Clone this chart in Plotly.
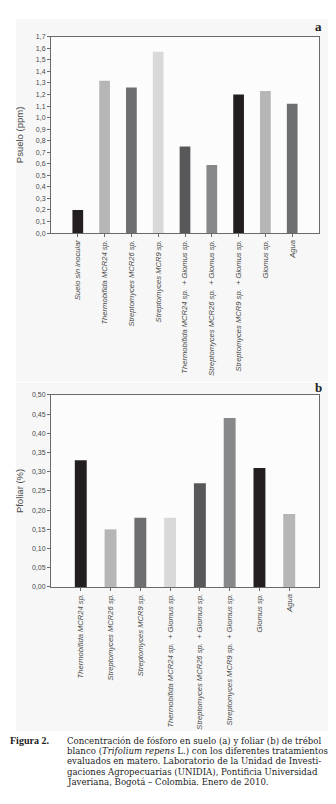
import plotly.graph_objects as go

W, H = 336, 804

# Panel a: soil phosphorus (ppm)
cats_a = ["Suelo sin inocular", "Thermobifida MCR24 sp.", "Streptomyces MCR26 sp.",
          "Streptomyces MCR9 sp.", "Thermobifida MCR24 sp.  + Glomus sp.",
          "Streptomyces MCR26 sp.  + Glomus sp.", "Streptomyces MCR9 sp.  + Glomus sp.",
          "Glomus sp.", "Agua"]
vals_a = [0.20, 1.32, 1.26, 1.57, 0.75, 0.59, 1.20, 1.23, 1.12]

# Panel b: foliar phosphorus (%)
cats_b = ["Thermobifida MCR24 sp.", "Streptomyces MCR26 sp.", "Streptomyces MCR9 sp.",
          "Thermobifida MCR24 sp.  + Glomus sp.", "Streptomyces MCR26 sp.  + Glomus sp.",
          "Streptomyces MCR9 sp.  + Glomus sp.", "Glomus sp.", "Agua"]
vals_b = [0.33, 0.15, 0.18, 0.18, 0.27, 0.44, 0.31, 0.19]

palette = ["#231f20", "#b6b6b6", "#6d6e70", "#d9d9d9", "#58585a", "#87888a"]
cols_a = [palette[i % 6] for i in range(len(vals_a))]
cols_b = [palette[i % 6] for i in range(len(vals_b))]

caption_lines = [
    "Concentración de fósforo en suelo (a) y foliar (b) de trébol",
    "blanco (<i>Trifolium repens</i> L.) con los diferentes tratamientos",
    "evaluados en matero. Laboratorio de la Unidad de Investi-",
    "gaciones Agropecuarias (UNIDIA), Pontificia Universidad",
    "Javeriana, Bogotá – Colombia. Enero de 2010.",
]

def px_x(x):
    return x / W

def px_y(y):
    return 1 - y / H

fig = go.Figure()
fig.add_trace(go.Bar(x=cats_a, y=vals_a, marker=dict(color=cols_a, line=dict(width=0)),
                     width=0.4, xaxis="x", yaxis="y", showlegend=False))
fig.add_trace(go.Bar(x=cats_b, y=vals_b, marker=dict(color=cols_b, line=dict(width=0)),
                     width=0.4, xaxis="x2", yaxis="y2", showlegend=False))

SANS = "Liberation Sans"
SERIF = "DejaVu Serif"
axis_common = dict(showline=True, mirror=True, linecolor="#6a6a6a", linewidth=1,
                   ticks="outside", ticklen=3, tickcolor="#6a6a6a", showgrid=False,
                   zeroline=False)
tickfont = dict(family=SANS, size=7, color="#4a4a4a")
catfont = dict(family=SANS, size=7.6, color="#4a4a4a", style="italic")
titlefont = dict(family=SANS, size=9.5, color="#4a4a4a")

fig.update_layout(
    width=W, height=H, margin=dict(l=0, r=0, t=0, b=0),
    paper_bgcolor="white", plot_bgcolor="#fbfbfb",
    separators=", ",
    xaxis=dict(domain=[px_x(43), px_x(311)], anchor="y", type="category",
               range=[-1, len(cats_a)], tickangle=-90, tickfont=catfont, **axis_common),
    yaxis=dict(domain=[px_y(223), px_y(25)], anchor="x", range=[0, 1.7], dtick=0.1,
               tickformat=".1f", tickfont=tickfont,
               title=dict(text="Psuelo (ppm)", font=titlefont, standoff=10),
               **axis_common),
    xaxis2=dict(domain=[px_x(43), px_x(311)], anchor="y2", type="category",
                range=[-1, len(cats_b)], tickangle=-90, tickfont=catfont, **axis_common),
    yaxis2=dict(domain=[px_y(580), px_y(386.3)], anchor="x2", range=[0, 0.5], dtick=0.05,
                tickformat=".2f", tickfont=tickfont,
                title=dict(text="Pfoliar (%)", font=titlefont, standoff=6),
                **axis_common),
)

shapes = []
for (y0, y1) in [(7, 373), (374, 725)]:
    shapes.append(dict(type="rect", xref="paper", yref="paper", layer="below",
                       x0=px_x(8), x1=px_x(320), y0=px_y(y1), y1=px_y(y0),
                       fillcolor="#f6f7f6", line=dict(width=0)))
for (y0, y1) in [(25, 223), (386.3, 580)]:
    shapes.append(dict(type="rect", xref="paper", yref="paper", layer="below",
                       x0=px_x(43), x1=px_x(311), y0=px_y(y1), y1=px_y(y0),
                       fillcolor="#fcfcfc", line=dict(width=0)))
fig.update_layout(shapes=shapes)

ann = []
for lab, yy in [("a", 15), ("b", 379)]:
    ann.append(dict(text="<b>%s</b>" % lab, x=px_x(316), y=px_y(yy), xref="paper", yref="paper",
                    xanchor="right", yanchor="middle", showarrow=False,
                    font=dict(family="Liberation Serif", size=13, color="#222")))
ann.append(dict(text="<b>Figura 2.</b>", x=px_x(0), y=px_y(735), xref="paper", yref="paper",
                xanchor="left", yanchor="middle", showarrow=False,
                font=dict(family="Liberation Serif", size=10, color="#222")))
for i, line in enumerate(caption_lines):
    ann.append(dict(text=line, x=px_x(57), y=px_y(735 + i * 10.5), xref="paper", yref="paper",
                    xanchor="left", yanchor="middle", showarrow=False,
                    font=dict(family=SERIF, size=8.6, color="#222")))
fig.update_layout(annotations=ann)

fig.write_html("out.html")
